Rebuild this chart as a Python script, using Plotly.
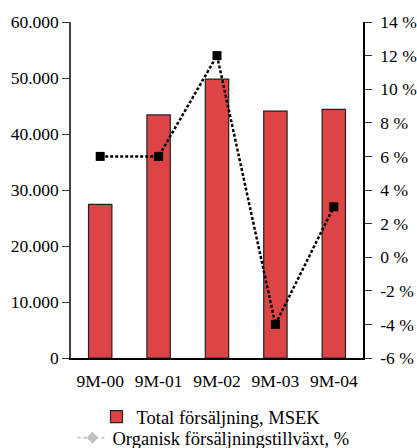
import plotly.graph_objects as go

# Nine-month figures per year
periods = ["9M-00", "9M-01", "9M-02", "9M-03", "9M-04"]
sales_msek = [27450, 43400, 49800, 44100, 44400]
organic_growth_pct = [6, 6, 12, -4, 3]

sales_ticks = [0, 10000, 20000, 30000, 40000, 50000, 60000]
growth_ticks = [-6, -4, -2, 0, 2, 4, 6, 8, 10, 12, 14]
growth_labels = [f"{v} %" for v in growth_ticks]

FONT = "Liberation Serif"
BAR_RED = "#DC4446"

fig = go.Figure()

fig.add_trace(go.Bar(
    x=periods, y=sales_msek,
    name="Total försäljning, MSEK",
    marker=dict(color=BAR_RED, line=dict(color="#222222", width=1.2)),
    legend="legend",
))

fig.add_trace(go.Scatter(
    x=periods, y=organic_growth_pct,
    yaxis="y2", mode="lines+markers",
    line=dict(color="black", width=2.5, dash="3px,2px"),
    marker=dict(symbol="square", size=9, color="black"),
    showlegend=False,
))

# Legend key for the growth series (grey diamond on a dotted line)
fig.add_trace(go.Scatter(
    x=[None], y=[None], yaxis="y2", mode="lines+markers",
    name="Organisk försäljningstillväxt, %",
    line=dict(color="#c8c8c8", width=2, dash="dot"),
    marker=dict(symbol="diamond", size=9, color="#c0c0c0"),
    legend="legend2",
))

axis_font = dict(family=FONT, size=17.5, color="black")
legend_font = dict(family=FONT, size=18.5, color="black")

fig.update_layout(
    width=417, height=448,
    margin=dict(l=71, r=54, t=22, b=90, autoexpand=False),
    paper_bgcolor="white", plot_bgcolor="white",
    font=dict(family=FONT, size=17.5, color="black"),
    separators=",.",
    bargap=0.6,
    xaxis=dict(
        type="category", showgrid=False, ticks="",
        showline=True, linecolor="black", linewidth=2,
        tickfont=axis_font, range=[-0.5, 4.5], ticklabelstandoff=6,
    ),
    yaxis=dict(
        range=[0, 60000], tickvals=sales_ticks, tickformat=",d",
        showgrid=False, zeroline=False,
        showline=True, linecolor="#444444", linewidth=1.5,
        ticks="outside", ticklen=7, tickcolor="#333333", tickwidth=1.2,
        tickfont=axis_font,
    ),
    yaxis2=dict(
        overlaying="y", side="right", range=[-6, 14],
        tickvals=growth_ticks, ticktext=growth_labels,
        showgrid=False, zeroline=False,
        showline=True, linecolor="black", linewidth=1.5,
        ticks="outside", ticklen=7, tickcolor="#333333", tickwidth=1.2,
        tickfont=axis_font, ticklabelstandoff=5,
    ),
    # inner halves of the crossing tick marks
    yaxis3=dict(
        overlaying="y", side="left", range=[0, 60000], tickvals=sales_ticks,
        showgrid=False, zeroline=False, showline=False, showticklabels=False,
        ticks="inside", ticklen=8, tickcolor="#333333", tickwidth=1.2,
    ),
    yaxis4=dict(
        overlaying="y", side="right", range=[-6, 14], tickvals=growth_ticks,
        showgrid=False, zeroline=False, showline=False, showticklabels=False,
        ticks="inside", ticklen=7, tickcolor="#333333", tickwidth=1.2,
    ),
    legend=dict(
        xref="container", yref="container",
        x=0.506, y=0.069, xanchor="center", yanchor="middle",
        font=legend_font, bgcolor="rgba(0,0,0,0)",
    ),
    legend2=dict(
        xref="container", yref="container",
        x=0.512, y=0.022, xanchor="center", yanchor="middle",
        font=legend_font, bgcolor="rgba(0,0,0,0)",
    ),
)

fig.write_html("out.html")
